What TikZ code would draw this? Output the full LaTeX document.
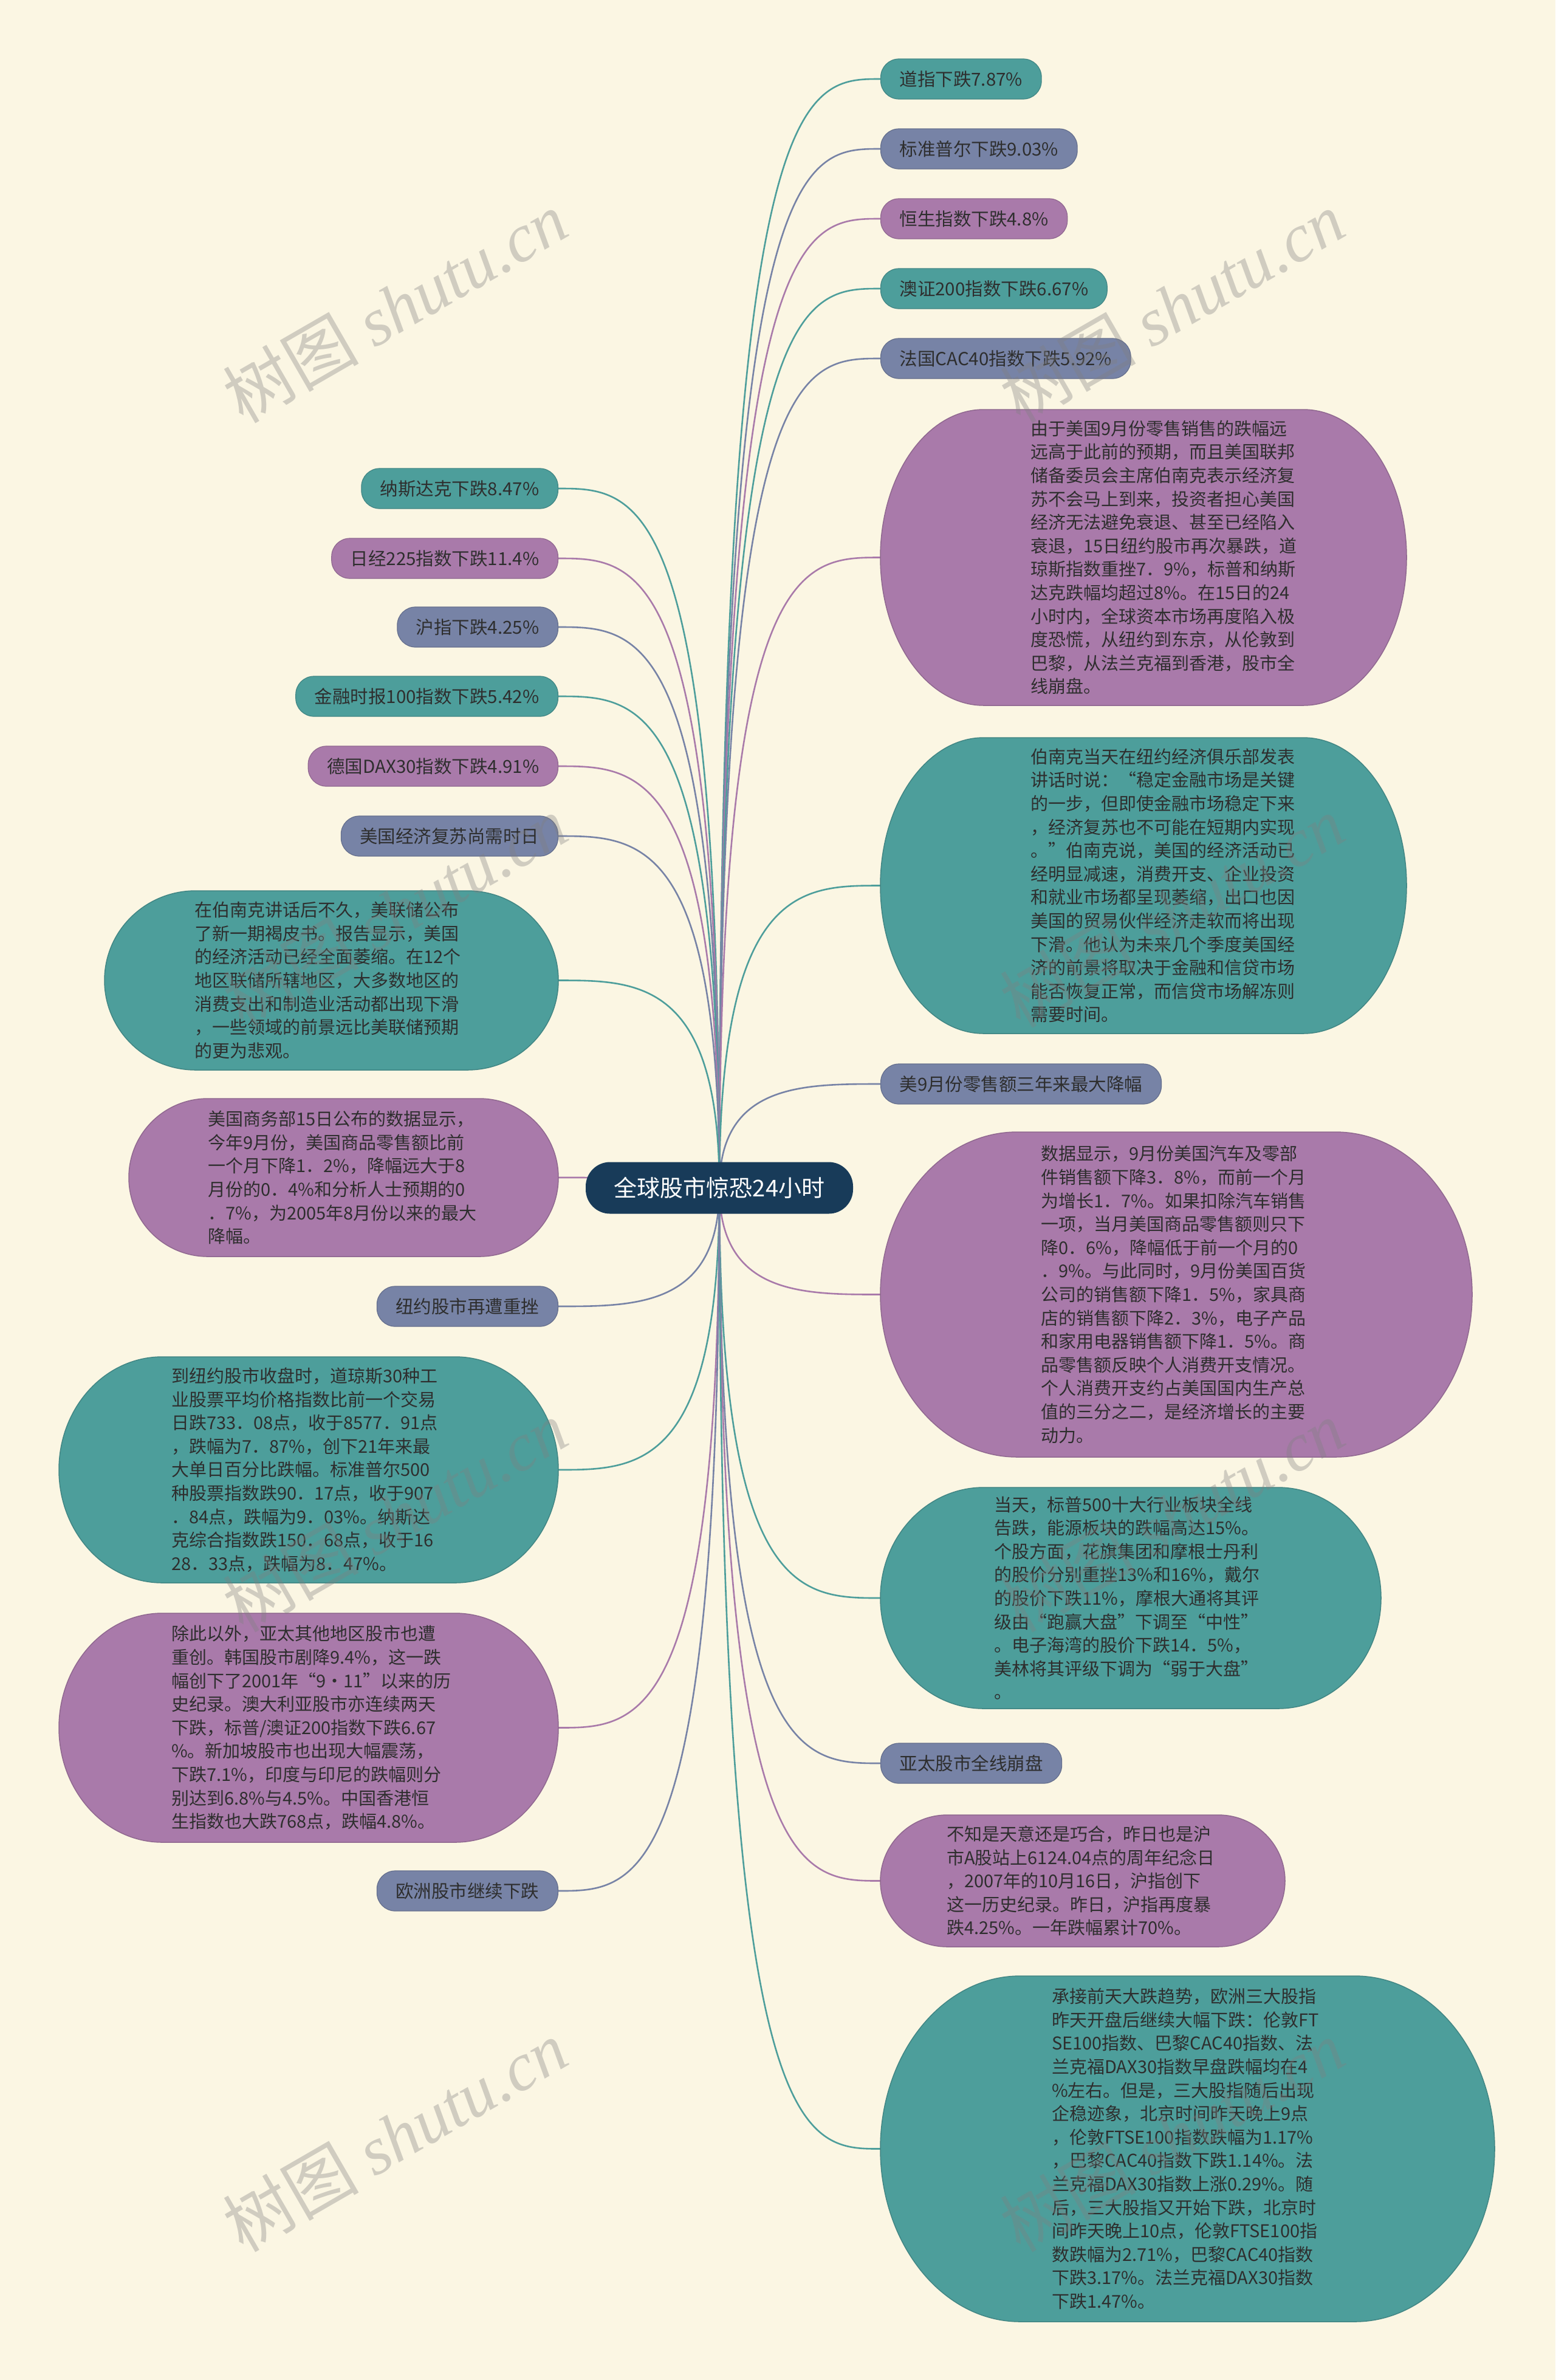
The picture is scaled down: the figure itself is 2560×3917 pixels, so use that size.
\documentclass[tikz,border=0pt]{standalone}
\usepackage{fontspec}
\setmainfont{Noto Sans CJK SC}
\newfontfamily\wmlatin{Liberation Serif}
\definecolor{bgc}{HTML}{FBF6E3}
\definecolor{cteal}{HTML}{4D9E9B}
\definecolor{cpurple}{HTML}{A97AAA}
\definecolor{cslate}{HTML}{7783A6}
\definecolor{croot}{HTML}{183B59}
\definecolor{ctext}{HTML}{2E2E2E}
\pgfdeclarelayer{back}
\pgfdeclarelayer{links}
\pgfsetlayers{back,links,main}
\tikzset{
  lbl/.style={rounded corners=30pt, minimum height=66pt, inner xsep=31pt, inner ysep=0pt,
    font=\fontsize{29.5}{35}\selectfont, text=ctext, line width=1.2pt},
  tl/.style={lbl, fill=cteal, draw=cteal!85!black},
  pl/.style={lbl, fill=cpurple, draw=cpurple!85!black},
  sl/.style={lbl, fill=cslate, draw=cslate!85!black},
  body/.style={align=left, inner sep=0pt, font=\fontsize{29}{38.6}\selectfont, text=ctext},
  link/.style={line width=2.6pt},
  wm/.style={text=gray, opacity=0.35, font=\fontsize{112}{120}\selectfont, rotate=30, inner sep=0pt}
}
\newcommand\bigbox[9]{%
  \pgfmathsetmacro\bbry{(#5-#3)/2}%
  \pgfmathsetmacro\bbcx{(#2+#4)/2}%
  \pgfmathsetmacro\bbcy{(#3+#5)/2}%
  \pgfmathsetmacro\bbw{#4-#2}%
  \pgfmathsetmacro\bbh{#5-#3}%
  \filldraw[fill=#7, draw=#7!85!black, line width=1.5pt] (#2+#6,#3) -- (#4-#6,#3)
    arc[start angle=90, end angle=-90, x radius=#6pt, y radius=\bbry pt] -- (#2+#6,#5)
    arc[start angle=270, end angle=90, x radius=#6pt, y radius=\bbry pt] -- cycle;
  \node[inner sep=0pt, minimum width=\bbw pt, minimum height=\bbh pt] (#1) at (\bbcx,\bbcy) {};
  \node[body, anchor=west] (#1t) at (#8,\bbcy) {#9};
}
\newcommand\linkR[2]{\draw[link, draw=#2] (root.center) .. controls (root.center |- #1.west) and ([xshift=-130pt]#1.west) .. (#1.west);}
\newcommand\linkL[2]{\draw[link, draw=#2] (root.center) .. controls (root.center |- #1.east) and ([xshift=130pt]#1.east) .. (#1.east);}
\begin{document}
\begin{tikzpicture}[x=1pt, y=-1pt]
\begin{pgfonlayer}{back}
\fill[bgc] (0,0) rectangle (2560,3917);
\end{pgfonlayer}
\useasboundingbox (0,0) rectangle (2560,3917);

% root
\node[fill=croot, rounded corners=40pt, minimum width=440pt, minimum height=85pt, inner sep=0pt,
  text=white, font=\fontsize{38}{44}\selectfont] (root) at (1184,1955) {全球股市惊恐24小时};

% right labels
\node[tl, anchor=west] (r1) at (1449,130) {道指下跌7.87\%};
\node[sl, anchor=west] (r2) at (1449,245) {标准普尔下跌9.03\%};
\node[pl, anchor=west] (r3) at (1449,360) {恒生指数下跌4.8\%};
\node[tl, anchor=west] (r4) at (1449,475) {澳证200指数下跌6.67\%};
\node[sl, anchor=west] (r5) at (1449,590) {法国CAC40指数下跌5.92\%};
\node[sl, anchor=west] (r8) at (1449,1784) {美9月份零售额三年来最大降幅};
\node[sl, anchor=west] (r11) at (1449,2902) {亚太股市全线崩盘};

% left labels
\node[tl, anchor=east] (l1) at (919,804) {纳斯达克下跌8.47\%};
\node[pl, anchor=east] (l2) at (919,919) {日经225指数下跌11.4\%};
\node[sl, anchor=east] (l3) at (919,1032) {沪指下跌4.25\%};
\node[tl, anchor=east] (l4) at (919,1146) {金融时报100指数下跌5.42\%};
\node[pl, anchor=east] (l5) at (919,1261) {德国DAX30指数下跌4.91\%};
\node[sl, anchor=east] (l6) at (919,1376) {美国经济复苏尚需时日};
\node[sl, anchor=east] (l9) at (919,2150) {纽约股市再遭重挫};
\node[sl, anchor=east] (l12) at (919,3112) {欧洲股市继续下跌};

% big boxes right
\bigbox{r6}{1449}{674}{2315}{1161}{170}{cpurple}{1696}{由于美国9月份零售销售的跌幅远\\
远高于此前的预期，而且美国联邦\\
储备委员会主席伯南克表示经济复\\
苏不会马上到来，投资者担心美国\\
经济无法避免衰退、甚至已经陷入\\
衰退，15日纽约股市再次暴跌，道\\
琼斯指数重挫7．9\%，标普和纳斯\\
达克跌幅均超过8\%。在15日的24\\
小时内，全球资本市场再度陷入极\\
度恐慌，从纽约到东京，从伦敦到\\
巴黎，从法兰克福到香港，股市全\\
线崩盘。}
\bigbox{r7}{1449}{1214}{2315}{1701}{170}{cteal}{1696}{伯南克当天在纽约经济俱乐部发表\\
讲话时说：“稳定金融市场是关键\\
的一步，但即使金融市场稳定下来\\
，经济复苏也不可能在短期内实现\\
。”伯南克说，美国的经济活动已\\
经明显减速，消费开支、企业投资\\
和就业市场都呈现萎缩，出口也因\\
美国的贸易伙伴经济走软而将出现\\
下滑。他认为未来几个季度美国经\\
济的前景将取决于金融和信贷市场\\
能否恢复正常，而信贷市场解冻则\\
需要时间。}
\bigbox{r9}{1449}{1863}{2423}{2398}{225}{cpurple}{1713}{数据显示，9月份美国汽车及零部\\
件销售额下降3．8\%，而前一个月\\
为增长1．7\%。如果扣除汽车销售\\
一项，当月美国商品零售额则只下\\
降0．6\%，降幅低于前一个月的0\\
．9\%。与此同时，9月份美国百货\\
公司的销售额下降1．5\%，家具商\\
店的销售额下降2．3\%，电子产品\\
和家用电器销售额下降1．5\%。商\\
品零售额反映个人消费开支情况。\\
个人消费开支约占美国国内生产总\\
值的三分之二，是经济增长的主要\\
动力。}
\bigbox{r10}{1449}{2448}{2273}{2812}{170}{cteal}{1636}{当天，标普500十大行业板块全线\\
告跌，能源板块的跌幅高达15\%。\\
个股方面，花旗集团和摩根士丹利\\
的股价分别重挫13\%和16\%，戴尔\\
的股价下跌11\%，摩根大通将其评\\
级由“跑赢大盘”下调至“中性”\\
。电子海湾的股价下跌14．5\%，\\
美林将其评级下调为“弱于大盘”\\
。}
\bigbox{r12}{1449}{2987}{2115}{3204}{110}{cpurple}{1558}{不知是天意还是巧合，昨日也是沪\\
市A股站上6124.04点的周年纪念日\\
，2007年的10月16日，沪指创下\\
这一历史纪录。昨日，沪指再度暴\\
跌4.25\%。一年跌幅累计70\%。}
\bigbox{r13}{1449}{3252}{2460}{3821}{230}{cteal}{1731}{承接前天大跌趋势，欧洲三大股指\\
昨天开盘后继续大幅下跌：伦敦FT\\
SE100指数、巴黎CAC40指数、法\\
兰克福DAX30指数早盘跌幅均在4\\
\%左右。但是，三大股指随后出现\\
企稳迹象，北京时间昨天晚上9点\\
，伦敦FTSE100指数跌幅为1.17\%\\
，巴黎CAC40指数下跌1.14\%。法\\
兰克福DAX30指数上涨0.29\%。随\\
后，三大股指又开始下跌，北京时\\
间昨天晚上10点，伦敦FTSE100指\\
数跌幅为2.71\%，巴黎CAC40指数\\
下跌3.17\%。法兰克福DAX30指数\\
下跌1.47\%。}

% big boxes left
\bigbox{l7}{172}{1466}{919}{1761}{150}{cteal}{320}{在伯南克讲话后不久，美联储公布\\
了新一期褐皮书。报告显示，美国\\
的经济活动已经全面萎缩。在12个\\
地区联储所辖地区，大多数地区的\\
消费支出和制造业活动都出现下滑\\
，一些领域的前景远比美联储预期\\
的更为悲观。}
\bigbox{l8}{212}{1808}{919}{2068}{130}{cpurple}{342}{美国商务部15日公布的数据显示，\\
今年9月份，美国商品零售额比前\\
一个月下降1．2\%，降幅远大于8\\
月份的0．4\%和分析人士预期的0\\
．7\%，为2005年8月份以来的最大\\
降幅。}
\bigbox{l10}{97}{2233}{919}{2605}{170}{cteal}{282}{到纽约股市收盘时，道琼斯30种工\\
业股票平均价格指数比前一个交易\\
日跌733．08点，收于8577．91点\\
，跌幅为7．87\%，创下21年来最\\
大单日百分比跌幅。标准普尔500\\
种股票指数跌90．17点，收于907\\
．84点，跌幅为9．03\%。纳斯达\\
克综合指数跌150．68点，收于16\\
28．33点，跌幅为8．47\%。}
\bigbox{l11}{97}{2655}{919}{3032}{170}{cpurple}{282}{除此以外，亚太其他地区股市也遭\\
重创。韩国股市剧降9.4\%，这一跌\\
幅创下了2001年“9·11”以来的历\\
史纪录。澳大利亚股市亦连续两天\\
下跌，标普/澳证200指数下跌6.67\\
\%。新加坡股市也出现大幅震荡，\\
下跌7.1\%，印度与印尼的跌幅则分\\
别达到6.8\%与4.5\%。中国香港恒\\
生指数也大跌768点，跌幅4.8\%。}

% connectors
\begin{pgfonlayer}{links}
\linkR{r1}{cteal}
\linkR{r2}{cslate}
\linkR{r3}{cpurple}
\linkR{r4}{cteal}
\linkR{r5}{cslate}
\linkR{r6}{cpurple}
\linkR{r7}{cteal}
\linkR{r8}{cslate}
\linkR{r9}{cpurple}
\linkR{r10}{cteal}
\linkR{r11}{cslate}
\linkR{r12}{cpurple}
\linkR{r13}{cteal}
\linkL{l1}{cteal}
\linkL{l2}{cpurple}
\linkL{l3}{cslate}
\linkL{l4}{cteal}
\linkL{l5}{cpurple}
\linkL{l6}{cslate}
\linkL{l7}{cteal}
\linkL{l8}{cpurple}
\linkL{l9}{cslate}
\linkL{l10}{cteal}
\linkL{l11}{cpurple}
\linkL{l12}{cslate}
\end{pgfonlayer}

% watermarks
\node[wm] (wm1) at (650,505) {树图 {\wmlatin\itshape shutu.cn}};
\node[wm] (wm2) at (1929,505) {树图 {\wmlatin\itshape shutu.cn}};
\node[wm] (wm3) at (650,1500) {树图 {\wmlatin\itshape shutu.cn}};
\node[wm] (wm4) at (1929,1500) {树图 {\wmlatin\itshape shutu.cn}};
\node[wm] (wm5) at (650,2495) {树图 {\wmlatin\itshape shutu.cn}};
\node[wm] (wm6) at (1929,2495) {树图 {\wmlatin\itshape shutu.cn}};
\node[wm] (wm7) at (650,3515) {树图 {\wmlatin\itshape shutu.cn}};
\node[wm] (wm8) at (1929,3515) {树图 {\wmlatin\itshape shutu.cn}};
\end{tikzpicture}
\end{document}
